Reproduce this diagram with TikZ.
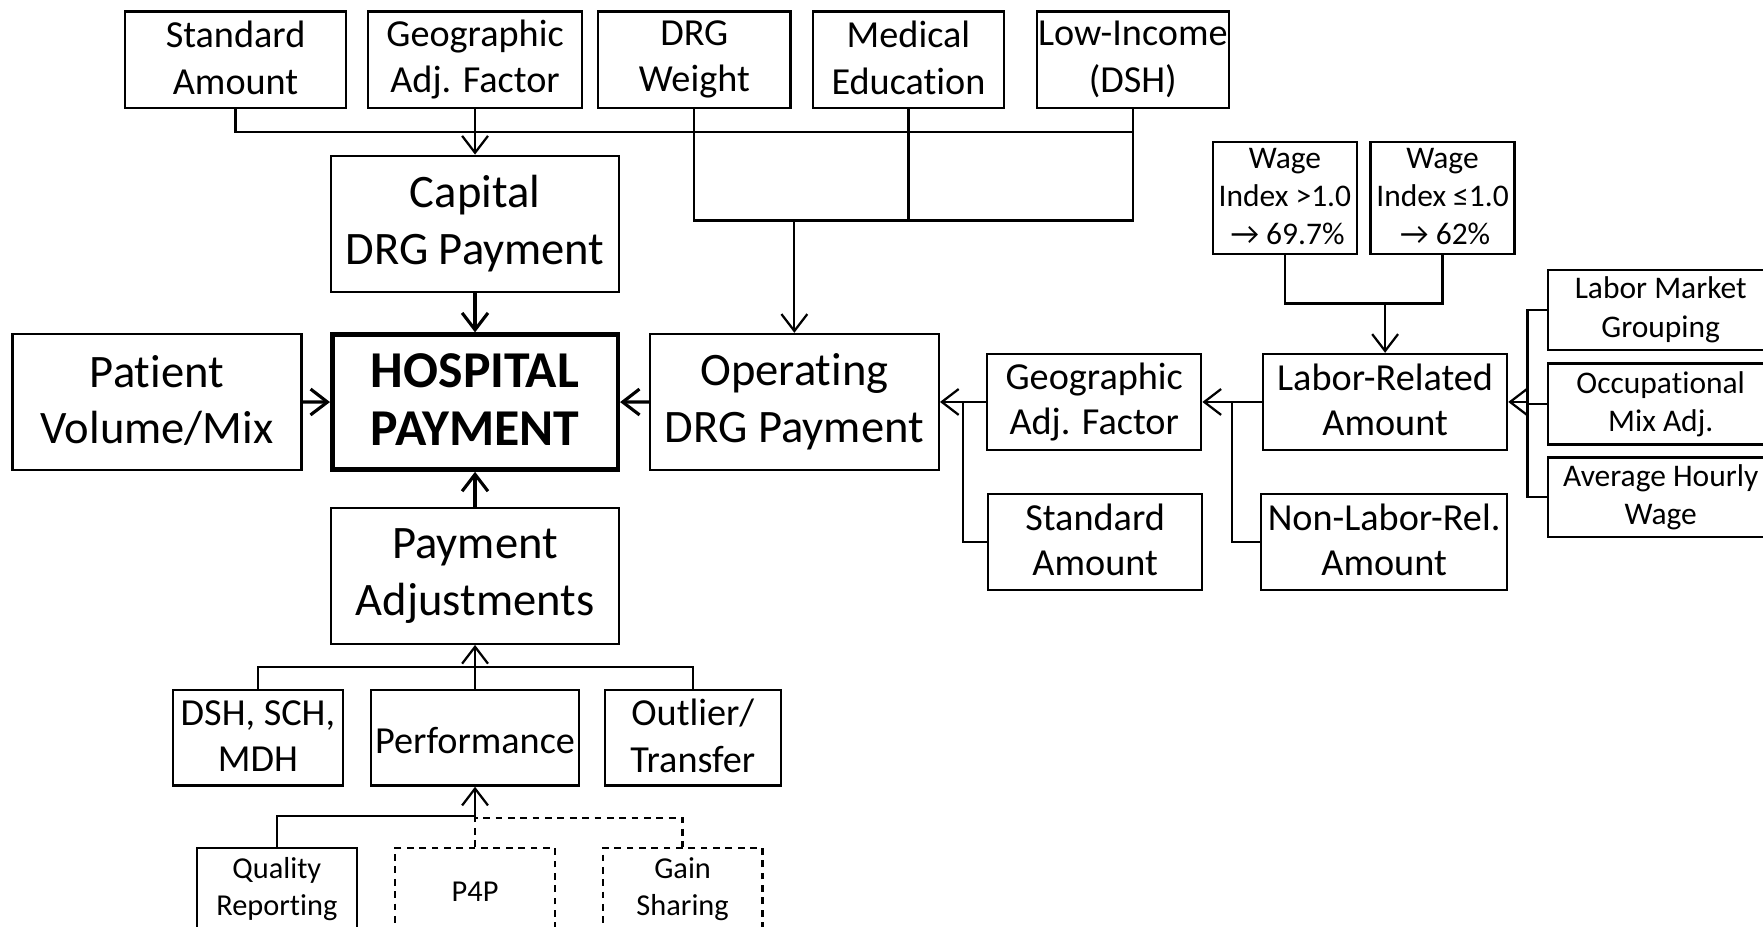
\documentclass[tikz,border=0pt]{standalone}
\usepackage{fontspec}
\setmainfont{Carlito}[Ligatures=NoCommon]
\usetikzlibrary{arrows.meta}
% invisible rules that give every line the same height and depth
\newcommand\linestrut{\rule[-0.1em]{0pt}{1.15em}}
\newcommand\onestrut{\rule[-0.25em]{0pt}{1.15em}}
\begin{document}
\begin{tikzpicture}[x=0.5pt,y=-0.5pt,
  box/.style={draw, line width=1pt, inner sep=0pt, align=center,
    execute at begin node=\linestrut, execute at end node=\linestrut},
  one/.style={execute at begin node=\onestrut, execute at end node={}},
  dbox/.style={box, dash pattern=on 3pt off 2.5pt},
  fL/.style={font=\fontsize{20.7}{25.2}\selectfont},
  fM/.style={font=\fontsize{17}{20.7}\selectfont},
  fR/.style={font=\fontsize{17}{20}\selectfont},
  fS/.style={font=\fontsize{14}{17}\selectfont},
  fT/.style={font=\fontsize{13.5}{16.3}\selectfont},
  ln/.style={line width=1pt},
  arr/.style={line width=1pt, -{Straight Barb[length=7.5pt,width=11.5pt]}},
  harr/.style={line width=1.4pt, -{Straight Barb[length=7.5pt,width=11.5pt]}},
  dln/.style={line width=1pt, dash pattern=on 3pt off 2.5pt}]
\path[use as bounding box] (0,0) rectangle (1568,824);
\clip (0,0) rectangle (1568,824);
\fill[white] (0,0) rectangle (1568,824);

% inputs along the top
\node[box,fM,minimum width=98.5pt,minimum height=42.75pt] (sa1) at (209.5,53) {Standard\\Amount};
\node[box,fM,minimum width=95pt,minimum height=42.75pt] (ga1) at (422.5,53) {Geographic\\Adj. Factor};
\node[box,fM,minimum width=85.5pt,minimum height=42.75pt] (drg) at (617.5,53) {DRG\\Weight};
\node[box,fM,minimum width=85pt,minimum height=42.75pt] (med) at (808,53) {Medical\\Education};
\node[box,fM,minimum width=85.5pt,minimum height=42.75pt] (low) at (1007.5,53) {Low-Income\\(DSH)};

% central column
\node[box,fL,minimum width=128pt,minimum height=60.5pt] (cap) at (422.5,199) {Capital\\DRG Payment};
\node[box,line width=2pt,minimum width=127pt,minimum height=60pt,
      font=\fontsize{23}{26}\selectfont\bfseries] (hosp) at (422.5,357.6) {HOSPITAL\\PAYMENT};
\node[box,fL,minimum width=128.5pt,minimum height=60.5pt] (pat) at (139.6,357.5) {Patient\\Volume/Mix};
\node[box,fL,minimum width=128.5pt,minimum height=60.5pt] (op) at (706.5,357.5) {Operating\\DRG Payment};
\node[box,fL,minimum width=128pt,minimum height=60.3pt] (padj) at (422.5,512.3) {Payment\\Adjustments};

% payment adjustments
\node[box,fM,minimum width=75.6pt,minimum height=42.5pt] (dsh) at (229.4,656.2) {DSH, SCH,\\MDH};
\node[box,one,fM,minimum width=92.3pt,minimum height=42.5pt] (perf) at (422.5,656.2) {Performance};
\node[box,fM,minimum width=78.4pt,minimum height=42.5pt] (out) at (616.2,656.2) {Outlier/\\Transfer};
\node[box,fT,minimum width=71.2pt,minimum height=36.4pt] (qual) at (246.2,790.6) {Quality\\Reporting};
\node[dbox,one,fT,minimum width=71.2pt,minimum height=36.4pt] (p4p) at (422.5,790.6) {P4P};
\node[dbox,fT,minimum width=71.1pt,minimum height=36.4pt] (gain) at (607.1,790.6) {Gain\\Sharing};

% operating payment components
\node[box,fS,minimum width=64.2pt,minimum height=50pt] (w1) at (1142.8,176) {Wage\\Index >1.0\\\,→ 69.7\%};
\node[box,fS,minimum width=64pt,minimum height=50pt] (w2) at (1283,176) {Wage\\Index ≤1.0\\\,→ 62\%};
\node[box,fR,minimum width=108.5pt,minimum height=42.7pt] (lab) at (1231.9,357.5) {Labor-Related\\Amount};
\node[box,fR,minimum width=95.2pt,minimum height=42.7pt] (ga2) at (973.2,357.5) {Geographic\\Adj. Factor};
\node[box,fR,minimum width=95.2pt,minimum height=42.85pt] (sa2) at (974,481.9) {Standard\\Amount};
\node[box,fR,minimum width=109.4pt,minimum height=42.85pt] (nonlab) at (1231,481.9) {Non-Labor-Rel.\\Amount};
\node[box,fS,minimum width=100pt,minimum height=35.5pt] (lmg) at (1477,275.5) {Labor Market\\Grouping};
\node[box,fS,minimum width=100pt,minimum height=36pt] (occ) at (1477,359.3) {Occupational\\Mix Adj.};
\node[box,fS,minimum width=100pt,minimum height=35.3pt] (avg) at (1477,442.3) {Average Hourly\\Wage};

% junction levels
\coordinate (busA) at (0,117.5);
\coordinate (busB) at (0,196);
\coordinate (busC) at (0,593);
\coordinate (busD) at (0,725.5);
\coordinate (busE) at (0,727.5);
\coordinate (busW) at (0,270);
\coordinate (jG) at (856.8,0);
\coordinate (jL) at (1095.7,0);
\coordinate (jR) at (1358.6,0);

% top connectors
\draw[ln] (sa1.south) |- (low.south |- busA);
\draw[ln] (low.south) -- (low.south |- busB) -| (drg.south);
\draw[ln] (med.south) -- (med.south |- busB);
\draw[arr] (ga1.south) -- (cap.north);
\draw[arr] (op.north |- busB) -- (op.north);

% into hospital payment
\draw[harr] (cap.south) -- (hosp.north);
\draw[harr] (pat.east) -- (hosp.west);
\draw[harr] (op.west) -- (hosp.east);
\draw[harr] (padj.north) -- (hosp.south);

% adjustments
\draw[ln] (dsh.north) |- (out.north |- busC) -- (out.north);
\draw[arr] (perf.north) -- (padj.south);
\draw[arr] (qual.north) |- (perf.south |- busD) -- (perf.south);
\draw[dln] (p4p.north) -- (p4p.north |- busE) -| (gain.north);

% operating side
\draw[ln] (w1.south) |- (w2.south |- busW) -- (w2.south);
\draw[arr] (lab.north |- busW) -- (lab.north);
\draw[arr] (lab.west) -- (ga2.east);
\draw[ln] (lab.west -| jL) |- (nonlab.west);
\draw[arr] (ga2.west) -- (op.east);
\draw[ln] (ga2.west -| jG) |- (sa2.west);
\draw[ln] (lmg.west) -| (avg.west -| jR) -- (avg.west);
\draw[ln] (occ.west) -- (occ.west -| jR);
\draw[arr] (lab.east -| jR) -- (lab.east);
\end{tikzpicture}
\end{document}
